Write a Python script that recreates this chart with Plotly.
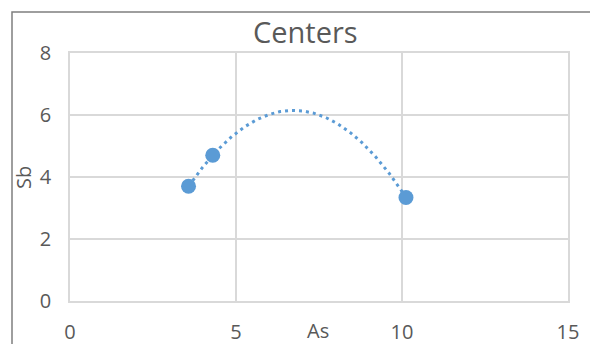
import numpy as np
import plotly.graph_objects as go

# Data
As = [3.57, 4.30, 10.12]
Sb = [3.70, 4.70, 3.34]
chart_title = "Centers"
x_title = "As"
y_title = "Sb"
x_ticks = [0, 5, 10, 15]
y_ticks = [0, 2, 4, 6, 8]

# polynomial (order 2) trendline, as in the source chart
coef = np.polyfit(As, Sb, 2)
tx = np.linspace(min(As), max(As), 200)
ty = np.polyval(coef, tx)

W, H = 590, 344
ML, MR, MT, MB = 70, 22, 53, 43
PW, PH = W - ML - MR, H - MT - MB

BLUE = "#5b9bd5"
TXT = "#595959"
GRID = "#d9d9d9"
FONT = "Open Sans"

fig = go.Figure()
fig.add_trace(go.Scatter(x=tx, y=ty, mode="lines",
                         line=dict(color=BLUE, width=3, dash="3px,4px"),
                         hoverinfo="skip", showlegend=False))
fig.add_trace(go.Scatter(x=As, y=Sb, mode="markers",
                         marker=dict(color=BLUE, size=15),
                         showlegend=False))

def px_x(p):
    return (p - ML) / PW

def px_y(p):
    return 1 - (p - MT) / PH

axis_common = dict(showgrid=True, gridcolor=GRID, gridwidth=1.5, zeroline=False,
                   showline=True, linecolor=GRID, linewidth=1.5, mirror=True,
                   ticks="outside", tickcolor="rgba(0,0,0,0)", automargin=False,
                   tickfont=dict(size=20, color=TXT, family=FONT))

fig.update_layout(
    width=W, height=H,
    margin=dict(l=ML, r=MR, t=MT, b=MB, autoexpand=False),
    paper_bgcolor="white", plot_bgcolor="white",
    font=dict(family=FONT, color=TXT, size=20),
    xaxis=dict(range=[0, 15], tickvals=x_ticks, ticklen=12, **axis_common),
    yaxis=dict(range=[0, 8], tickvals=y_ticks, ticklen=13, **axis_common),
    annotations=[
        dict(text=chart_title, x=px_x(305), y=px_y(31), xref="paper", yref="paper",
             showarrow=False, xanchor="center", yanchor="middle",
             font=dict(size=29, color=TXT, family=FONT)),
        dict(text=x_title, x=px_x(318), y=px_y(330), xref="paper", yref="paper",
             showarrow=False, xanchor="center", yanchor="middle",
             font=dict(size=20, color=TXT, family=FONT)),
        dict(text=y_title, x=px_x(23), y=px_y(178), xref="paper", yref="paper",
             showarrow=False, xanchor="center", yanchor="middle", textangle=-90,
             font=dict(size=20, color=TXT, family=FONT)),
    ],
    shapes=[
        dict(type="rect", xref="paper", yref="paper",
             x0=px_x(12), x1=px_x(640), y0=px_y(400), y1=px_y(12),
             line=dict(color="#7f7f7f", width=1.5), layer="above"),
    ],
)

fig.write_html("out.html", config={"displayModeBar": False},
               post_script="document.body.style.margin='0px';document.body.style.overflow='hidden';")
